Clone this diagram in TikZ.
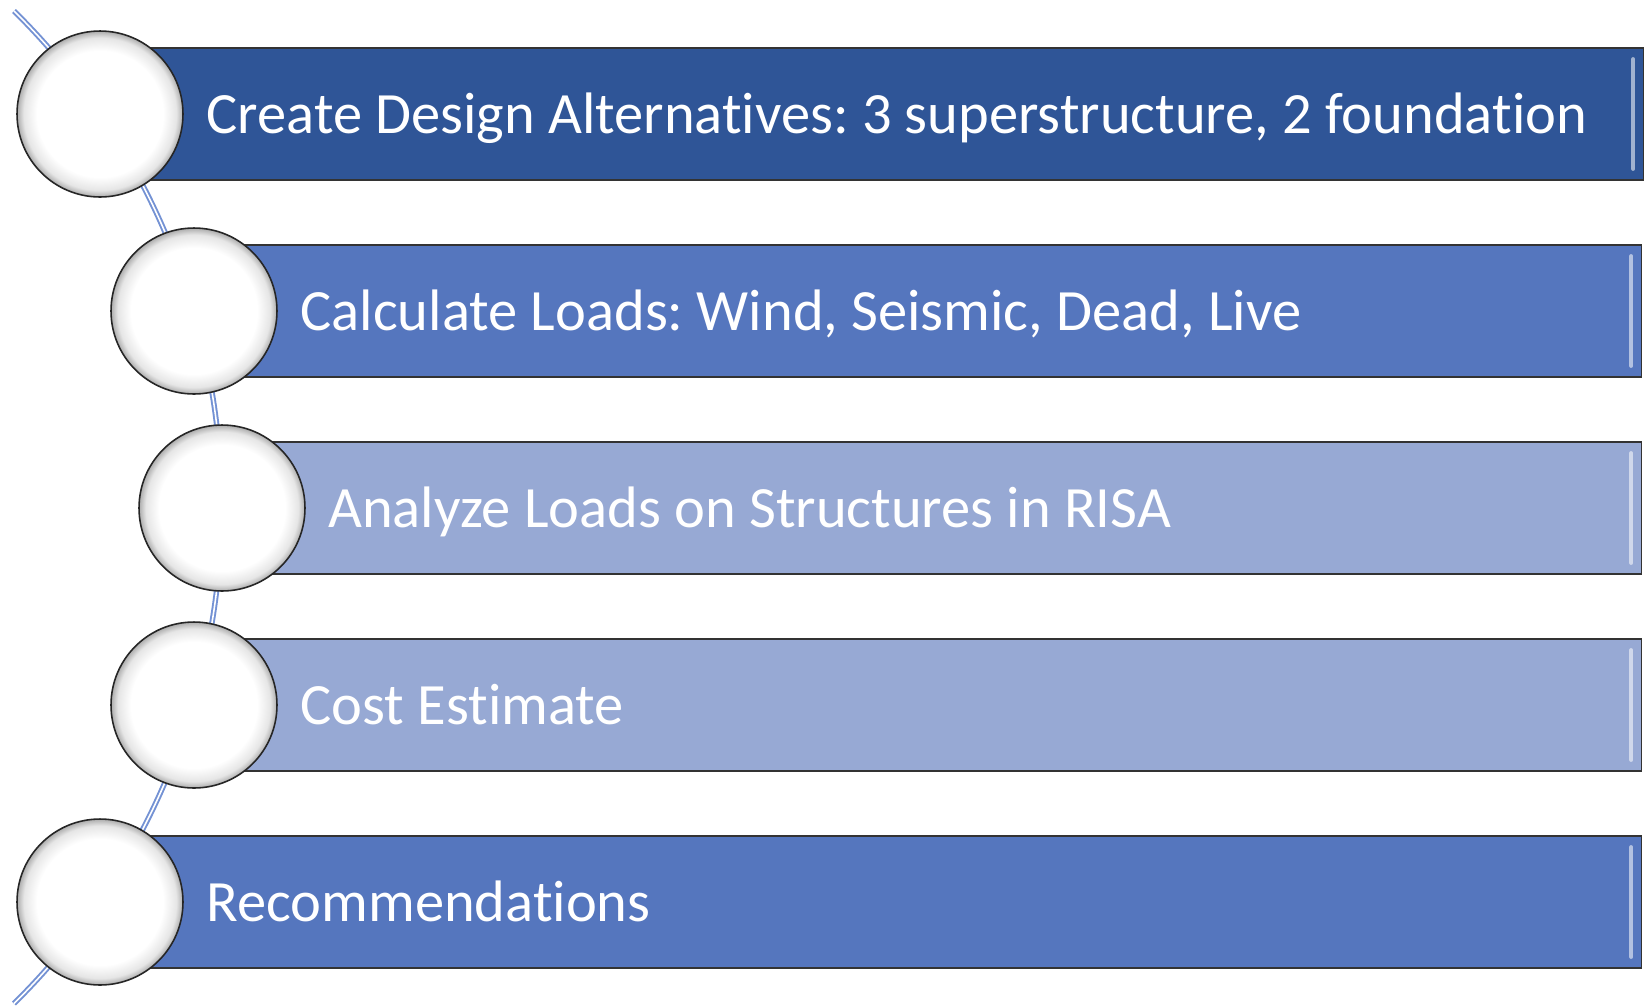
\documentclass[tikz,border=0pt]{standalone}
\usepackage{fontspec}
\setmainfont{Carlito}[Ligatures=NoCommon]
\usetikzlibrary{positioning}
\definecolor{darkbar}{RGB}{47,85,151}
\definecolor{midbar}{RGB}{85,118,190}
\definecolor{lightbar}{RGB}{151,169,212}
\definecolor{spineblue}{RGB}{116,146,212}
\pgfdeclareradialshading{bulb}{\pgfpoint{0bp}{0bp}}{color(0bp)=(white); color(19bp)=(white); color(23bp)=(gray!20); color(25bp)=(gray!65); color(50bp)=(gray!65)}
\tikzset{
  x=0.02cm, y=-0.02cm,
  node distance=0.45cm,
  bullet/.style={circle, draw=black!85, line width=0.9pt, minimum size=3.32cm, shading=bulb},
  bar/.style={draw=black!80, line width=0.9pt, minimum height=2.64cm, anchor=west, inner sep=0pt},
  bevel/.style={draw=white, opacity=0.55, line width=2.4pt, line cap=round},
  steptext/.style={font=\fontsize{33.3}{40}\selectfont, text=white, inner sep=0pt, text height=0.78cm, text depth=0cm},
  spine/.style={draw=spineblue, line width=1.1pt, double=white, double distance=0.9pt},
}

\begin{document}
\frenchspacing
\begin{tikzpicture}
        \fill[white] (0,0) rectangle (1650,1005);
        \useasboundingbox (0,0) rectangle (1650,1005);

        % spine
        \coordinate (top) at (14,11);
        \draw[spine] (top) arc[start angle=-45.4, end angle=45.4, radius=697];

        % bars
        \node[bar, fill=darkbar, minimum width=30.86cm] (b1) at (100,114) {};
        \node[bar, fill=midbar, minimum width=28.94cm] (b2) at (194,311) {};
        \node[bar, fill=lightbar, minimum width=28.38cm] (b3) at (222,508) {};
        \node[bar, fill=lightbar, minimum width=28.94cm] (b4) at (194,705) {};
        \node[bar, fill=midbar, minimum width=30.82cm] (b5) at (100,902) {};
        \draw[bevel] ([xshift=-0.22cm, yshift=-0.24cm] b1.north east) -- ([xshift=-0.22cm, yshift=0.24cm] b1.south east);
        \draw[bevel] ([xshift=-0.22cm, yshift=-0.24cm] b2.north east) -- ([xshift=-0.22cm, yshift=0.24cm] b2.south east);
        \draw[bevel] ([xshift=-0.22cm, yshift=-0.24cm] b3.north east) -- ([xshift=-0.22cm, yshift=0.24cm] b3.south east);
        \draw[bevel] ([xshift=-0.22cm, yshift=-0.24cm] b4.north east) -- ([xshift=-0.22cm, yshift=0.24cm] b4.south east);
        \draw[bevel] ([xshift=-0.22cm, yshift=-0.24cm] b5.north east) -- ([xshift=-0.22cm, yshift=0.24cm] b5.south east);

        % circles
        \node[bullet] (c1) at (b1.west) {};
        \node[bullet] (c2) at (b2.west) {};
        \node[bullet] (c3) at (b3.west) {};
        \node[bullet] (c4) at (b4.west) {};
        \node[bullet] (c5) at (b5.west) {};

        % labels
        \node[steptext, right=of c1] (t1) {Create Design Alternatives: 3 superstructure, 2 foundation};
        \node[steptext, right=of c2] (t2) {Calculate Loads: Wind, Seismic, Dead, Live};
        \node[steptext, right=0.44cm of c3] (t3) {Analyze Loads on Structures in RISA};
        \node[steptext, right=of c4] (t4) {Cost Estimate};
        \node[steptext, right=of c5] (t5) {Recommendations};
      \end{tikzpicture}
\end{document}
